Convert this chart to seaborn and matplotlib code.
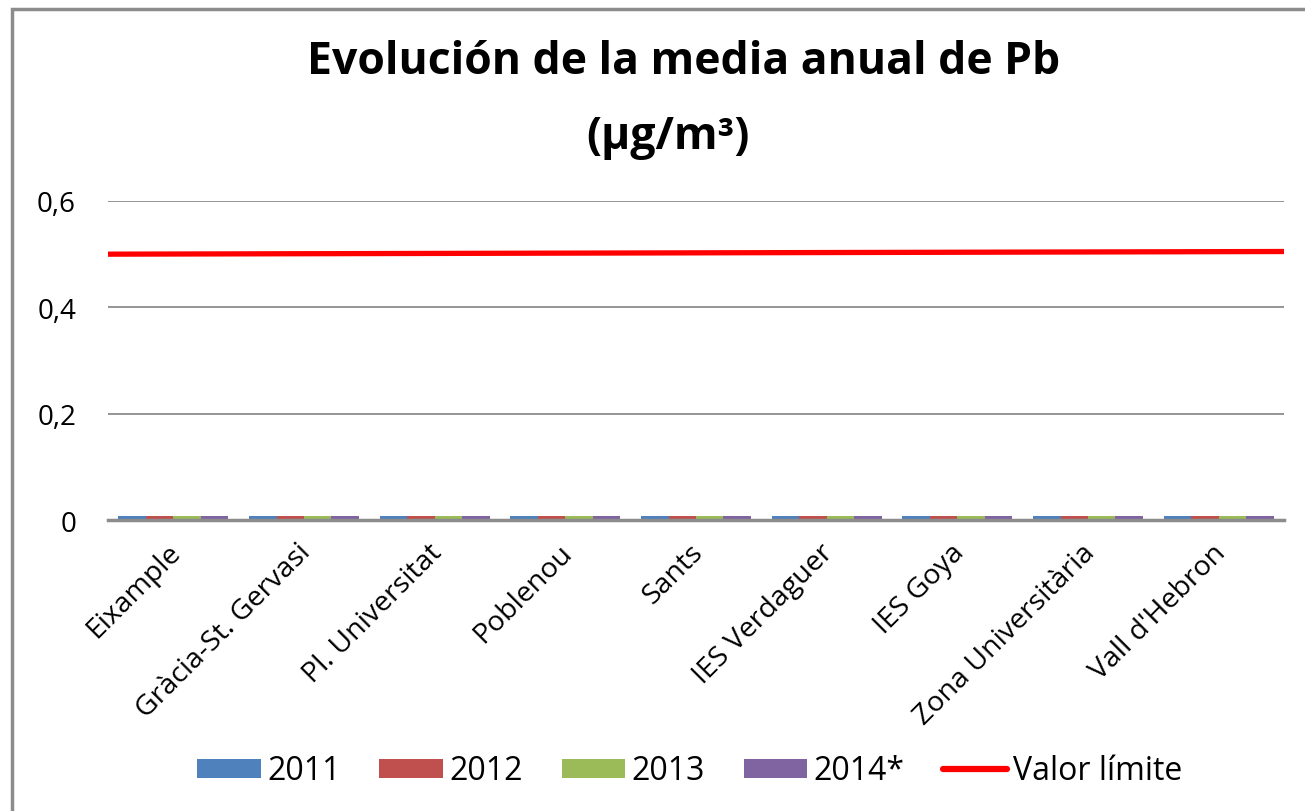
import matplotlib
matplotlib.use("Agg")
import matplotlib.pyplot as plt
import matplotlib.transforms as mtransforms
import seaborn as sns
import pandas as pd
from matplotlib.patches import Rectangle, Patch
from matplotlib.lines import Line2D

stations = ["Eixample", "Gràcia-St. Gervasi", "Pl. Universitat", "Poblenou", "Sants",
            "IES Verdaguer", "IES Goya", "Zona Universitària", "Vall d'Hebron"]
years = ["2011", "2012", "2013", "2014*"]
v2011 = [0.007] * 9
v2012 = [0.007] * 9
v2013 = [0.007] * 9
v2014 = [0.007] * 9
limit_values = [0.500, 0.505]  # valor límite at left and right edges
yticks = [0, 0.2, 0.4, 0.6]
ytick_labels = ["0", "0,2", "0,4", "0,6"]
colors = ["#4F81BD", "#C0504D", "#9BBB59", "#8064A2"]

rows = []
for yr, vals in zip(years, [v2011, v2012, v2013, v2014]):
    for s, v in zip(stations, vals):
        rows.append({"Estación": s, "Año": yr, "Pb": v})
df = pd.DataFrame(rows)

sns.set_theme(style="white")
plt.rcParams["font.family"] = ["Open Sans", "DejaVu Sans"]

fig = plt.figure(figsize=(13.05, 8.12), dpi=100)
W, H = 1305, 812
ax = fig.add_axes([108 / W, (H - 521) / H, 1176 / W, 319 / H])

sns.barplot(data=df, x="Estación", y="Pb", hue="Año", palette=colors,
            width=0.84, ax=ax, legend=False, saturation=1)
for p in ax.patches:
    p.set_linewidth(0)

ax.plot([-0.5, len(stations) - 0.5], limit_values, color="#FF0000", lw=3.8,
        solid_capstyle="butt", zorder=5)

ax.set_xlim(-0.5, len(stations) - 0.5)
ax.set_ylim(0, 0.6)
ax.set_yticks(yticks)
ax.set_yticklabels(ytick_labels, fontsize=20, color="black")
ax.yaxis.grid(True, color="#8C8C8C", lw=1.3)
ax.set_axisbelow(True)
for sp in ["top", "right", "left"]:
    ax.spines[sp].set_visible(False)
ax.spines["bottom"].set_color("#8C8C8C")
ax.spines["bottom"].set_linewidth(2.5)
ax.spines["bottom"].set_zorder(1)
ax.tick_params(axis="y", length=0, pad=23)
ax.tick_params(axis="x", length=0, pad=13)
ax.set_xticks(range(len(stations)))
ax.set_xticklabels(stations, rotation=45, ha="right", rotation_mode="anchor",
                   fontsize=20.5, color="black")
offset = mtransforms.ScaledTranslation(-7 / 100, 0, fig.dpi_scale_trans)
for lbl in ax.get_xticklabels():
    lbl.set_transform(lbl.get_transform() + offset)
ax.set_xlabel("")
ax.set_ylabel("")

fig.text(684 / W, 1 - 62 / H, "Evolución de la media anual de Pb", ha="center", va="center",
         fontsize=32, fontweight="bold", color="black")
fig.text(668 / W, 1 - 138 / H, "(µg/m³)", ha="center", va="center",
         fontsize=32, fontweight="bold", color="black")

handles = [Patch(facecolor=c, edgecolor="none") for c in colors]
handles.append(Line2D([0], [0], color="#FF0000", lw=4.5))
labels = years + ["Valor límite"]
fig.legend(handles, labels, loc="center", bbox_to_anchor=(690 / W, 1 - 772 / H), ncol=5,
           frameon=False, fontsize=23, handlelength=2.0, handleheight=0.55,
           columnspacing=1.2, handletextpad=0.2, labelcolor="black")

fig.patches.append(Rectangle((12.5 / W, -0.1), 1.2, 1 - 9.5 / H + 0.1, transform=fig.transFigure,
                             fill=False, edgecolor="#8C8C8C", lw=2.5, zorder=10))

fig.savefig("out.png", dpi=100, facecolor="white")
